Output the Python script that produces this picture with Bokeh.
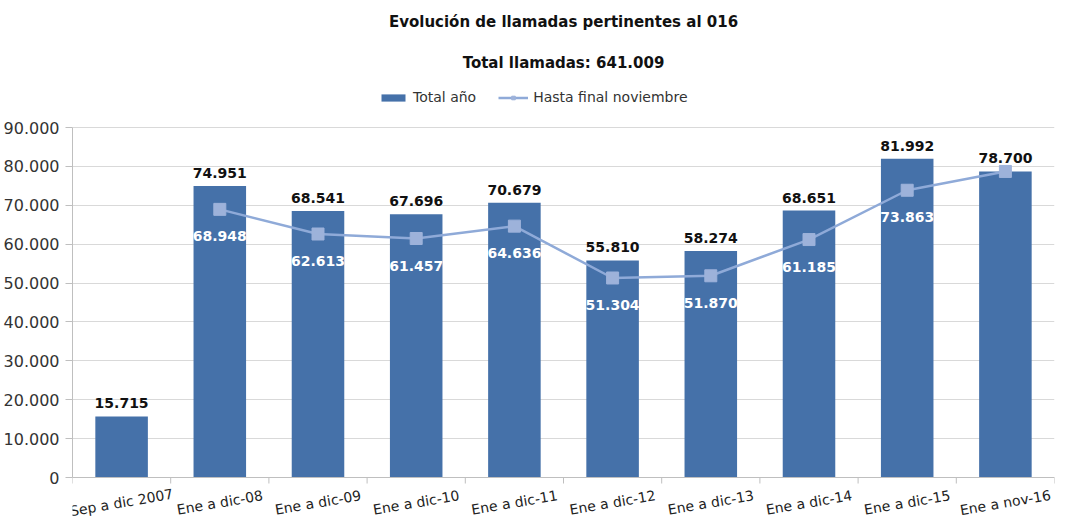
from bokeh.plotting import figure
from bokeh.models import (Range1d, FactorRange, FixedTicker, Legend, LegendItem, Title,
                          ColumnDataSource, LabelSet, Span)
from bokeh.core.properties import value
from bokeh.embed import file_html
from bokeh.resources import INLINE

categories = ["Sep a dic 2007", "Ene a dic-08", "Ene a dic-09", "Ene a dic-10", "Ene a dic-11",
              "Ene a dic-12", "Ene a dic-13", "Ene a dic-14", "Ene a dic-15", "Ene a nov-16"]
total_anio = [15715, 74951, 68541, 67696, 70679, 55810, 58274, 68651, 81992, 78700]
hasta_noviembre = [None, 68948, 62613, 61457, 64636, 51304, 51870, 61185, 73863, 78700]
y_ticks = [0, 10000, 20000, 30000, 40000, 50000, 60000, 70000, 80000, 90000]

def fmt(v):
    return f"{v:,}".replace(",", ".")

FONT = "DejaVu Sans"
BAR = "#4571A9"
LINE = "#8FAAD8"
MARK = "#9DB2DA"
GRID = "#D9D9D9"

# layout (pixels inside the figure)
W, H = 1056, 525
TOP, BOTTOM = 83, 2
AXIS_TOP, AXIS_BOTTOM = 127, 477      # where 90.000 and 0 sit
FRAME_H = H - TOP - BOTTOM
UNITS_PER_PX = (y_ticks[-1] - y_ticks[0]) / (AXIS_BOTTOM - AXIS_TOP)
Y_MAX = y_ticks[-1] + (AXIS_TOP - TOP) * UNITS_PER_PX
Y_MIN = y_ticks[0] - (H - BOTTOM - AXIS_BOTTOM) * UNITS_PER_PX

p = figure(x_range=FactorRange(*categories), y_range=Range1d(Y_MIN, Y_MAX),
           width=W, height=H, output_backend="svg", toolbar_location=None,
           min_border_left=67, min_border_right=2, min_border_top=TOP, min_border_bottom=BOTTOM)
p.title = None
p.outline_line_color = None

bar_src = ColumnDataSource(dict(cat=categories, val=total_anio,
                                lab=[fmt(v) for v in total_anio],
                                zero=[0] * len(categories)))
bars = p.vbar(x="cat", top="val", width=0.535, source=bar_src, fill_color=BAR, line_color=None)

lc = [c for c, v in zip(categories, hasta_noviembre) if v is not None]
lv = [v for v in hasta_noviembre if v is not None]
line_src = ColumnDataSource(dict(cat=lc, val=lv, lab=[fmt(v) for v in lv]))
ln = p.line(x="cat", y="val", source=line_src, line_color=LINE, line_width=2.5)
mk = p.scatter(x="cat", y="val", source=line_src, marker="square", size=12,
               fill_color=MARK, line_color=MARK)

p.text(x="cat", y="val", text="lab", source=bar_src, text_font=value(FONT),
       text_font_style="bold", text_font_size="14px", text_color="#111111",
       text_align="center", text_baseline="bottom", y_offset=-8)

lab_src = ColumnDataSource(dict(cat=lc[:-1], val=lv[:-1], lab=[fmt(v) for v in lv[:-1]]))
p.text(x="cat", y="val", text="lab", source=lab_src, text_font=value(FONT),
       text_font_style="bold", text_font_size="14px", text_color="white",
       text_align="center", text_baseline="middle", y_offset=27)

# category axis: baseline, tick marks between categories, rotated centred labels
p.add_layout(Span(location=0, dimension="width", line_color="#BFBFBF", line_width=1))
edges = [(c, -0.5) for c in categories] + [(categories[-1], 0.5)]
p.segment(x0=edges, y0=[0] * len(edges), x1=edges, y1=[-6 * UNITS_PER_PX] * len(edges),
          line_color="#BFBFBF", line_width=1)
xl = LabelSet(x="cat", y="zero", text="cat", source=bar_src, text_font=value(FONT),
              text_font_size="14px", text_color="#222222", text_align="center",
              text_baseline="middle", angle=0.17, y_offset=-25)
p.add_layout(xl)
p.xaxis.visible = False

# value axis
p.yaxis.ticker = FixedTicker(ticks=y_ticks)
p.yaxis.bounds = (y_ticks[0], y_ticks[-1])
p.yaxis.major_label_overrides = {t: fmt(t) for t in y_ticks}
p.yaxis.major_label_text_font = FONT
p.yaxis.major_label_text_font_size = "16px"
p.yaxis.major_label_text_color = "#333333"
p.yaxis.axis_line_color = "#BFBFBF"
p.yaxis.major_tick_line_color = "#BFBFBF"
p.yaxis.major_tick_in = 0
p.yaxis.major_tick_out = 7
p.yaxis.major_label_standoff = 6
p.yaxis.minor_tick_line_color = None

p.xgrid.grid_line_color = None
p.ygrid.grid_line_color = GRID

legend = Legend(items=[LegendItem(label="Total año", renderers=[bars]),
                       LegendItem(label="Hasta final noviembre", renderers=[ln, mk])],
                orientation="horizontal", location=(306, FRAME_H - 22),
                label_text_font=FONT, label_text_font_size="14px", label_text_color="#333333",
                glyph_width=30, glyph_height=9, spacing=22, label_standoff=5,
                border_line_color=None, background_fill_alpha=0, margin=0, padding=2)
p.add_layout(legend, "center")
p.add_layout(Title(text="Total llamadas: 641.009", align="center", text_font=FONT,
                   text_font_size="15px", text_font_style="bold", text_color="#111111",
                   standoff=24), "above")
p.add_layout(Title(text="Evolución de llamadas pertinentes al 016", align="center", text_font=FONT,
                   text_font_size="15px", text_font_style="bold", text_color="#111111",
                   standoff=17), "above")

open("out.html", "w").write(file_html(p, INLINE))
